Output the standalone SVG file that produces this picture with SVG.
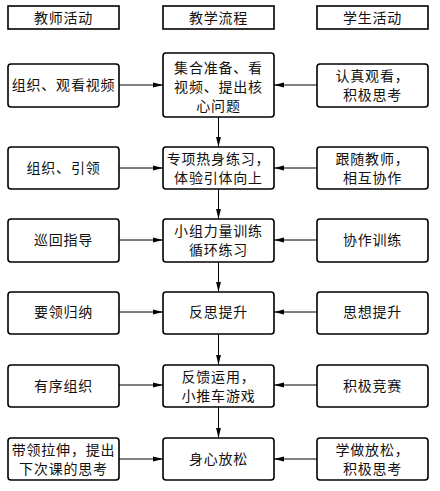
<svg xmlns="http://www.w3.org/2000/svg" width="440" height="491" viewBox="0 0 440 491">
<style>
.hd{fill:#fff;stroke:#000;stroke-width:1.6}
.bx{fill:#fff;stroke:#000;stroke-width:1.6}
text{font-family:"Noto Sans CJK SC","Noto Sans CJK JP",sans-serif;font-size:14px;fill:#111;text-anchor:middle;letter-spacing:0.8px}
.cn{stroke:#000;stroke-width:1;fill:none;marker-end:url(#ah)}
</style>
<defs>
<marker id="ah" markerWidth="10" markerHeight="6" refX="10" refY="3" orient="auto" markerUnits="userSpaceOnUse">
<path d="M0,0.6 L10,3 L0,5.4 Z" fill="#000"/>
</marker>
</defs>
<g id="h1"><rect class="hd" x="8" y="6" width="111" height="23"/><text x="63.5" y="23">教师活动</text></g>
<g id="h2"><rect class="hd" x="163" y="6" width="111" height="23"/><text x="218.5" y="23">教学流程</text></g>
<g id="h3"><rect class="hd" x="317" y="6" width="111" height="23"/><text x="372.5" y="23">学生活动</text></g>

<g id="l1"><rect class="bx" x="8" y="64" width="111" height="43" rx="3"/><text x="63.5" y="90">组织、观看视频</text></g>
<g id="m1"><rect class="bx" x="163" y="53" width="111" height="64" rx="3"/><text x="218.5" y="73">集合准备、看</text><text x="218.5" y="92">视频、提出核</text><text x="218.5" y="111">心问题</text></g>
<g id="r1"><rect class="bx" x="317" y="64" width="111" height="43" rx="3"/><text x="372.5" y="81">认真观看，</text><text x="372.5" y="100">积极思考</text></g>

<g id="l2"><rect class="bx" x="8" y="147" width="111" height="42" rx="3"/><text x="63.5" y="173">组织、引领</text></g>
<g id="m2"><rect class="bx" x="163" y="147" width="111" height="42" rx="3"/><text x="218.5" y="164">专项热身练习，</text><text x="218.5" y="183">体验引体向上</text></g>
<g id="r2"><rect class="bx" x="317" y="147" width="111" height="42" rx="3"/><text x="372.5" y="164">跟随教师，</text><text x="372.5" y="183">相互协作</text></g>

<g id="l3"><rect class="bx" x="8" y="219" width="111" height="43" rx="3"/><text x="63.5" y="245">巡回指导</text></g>
<g id="m3"><rect class="bx" x="163" y="219" width="111" height="43" rx="3"/><text x="218.5" y="236">小组力量训练</text><text x="218.5" y="255">循环练习</text></g>
<g id="r3"><rect class="bx" x="317" y="219" width="111" height="43" rx="3"/><text x="372.5" y="245">协作训练</text></g>

<g id="l4"><rect class="bx" x="8" y="292" width="111" height="42" rx="3"/><text x="63.5" y="317">要领归纳</text></g>
<g id="m4"><rect class="bx" x="163" y="292" width="111" height="42" rx="3"/><text x="218.5" y="317">反思提升</text></g>
<g id="r4"><rect class="bx" x="317" y="292" width="111" height="42" rx="3"/><text x="372.5" y="317">思想提升</text></g>

<g id="l5"><rect class="bx" x="8" y="365" width="111" height="42" rx="3"/><text x="63.5" y="391">有序组织</text></g>
<g id="m5"><rect class="bx" x="163" y="365" width="111" height="42" rx="3"/><text x="218.5" y="382">反馈运用，</text><text x="218.5" y="401">小推车游戏</text></g>
<g id="r5"><rect class="bx" x="317" y="365" width="111" height="42" rx="3"/><text x="372.5" y="391">积极竞赛</text></g>

<g id="l6"><rect class="bx" x="8" y="438" width="111" height="42" rx="3"/><text x="63.5" y="455">带领拉伸，提出</text><text x="63.5" y="474">下次课的思考</text></g>
<g id="m6"><rect class="bx" x="163" y="438" width="111" height="42" rx="3"/><text x="218.5" y="464">身心放松</text></g>
<g id="r6"><rect class="bx" x="317" y="438" width="111" height="42" rx="3"/><text x="372.5" y="455">学做放松，</text><text x="372.5" y="474">积极思考</text></g>

<g id="connectors">
<line class="cn" x1="119" y1="85" x2="163" y2="85"/>
<line class="cn" x1="317" y1="85" x2="274" y2="85"/>
<line class="cn" x1="218.5" y1="117" x2="218.5" y2="147"/>
<line class="cn" x1="119" y1="168" x2="163" y2="168"/>
<line class="cn" x1="317" y1="168" x2="274" y2="168"/>
<line class="cn" x1="218.5" y1="189" x2="218.5" y2="219"/>
<line class="cn" x1="119" y1="240" x2="163" y2="240"/>
<line class="cn" x1="317" y1="240" x2="274" y2="240"/>
<line class="cn" x1="218.5" y1="262" x2="218.5" y2="292"/>
<line class="cn" x1="119" y1="312" x2="163" y2="312"/>
<line class="cn" x1="317" y1="312" x2="274" y2="312"/>
<line class="cn" x1="218.5" y1="334" x2="218.5" y2="365"/>
<line class="cn" x1="119" y1="385" x2="163" y2="385"/>
<line class="cn" x1="317" y1="385" x2="274" y2="385"/>
<line class="cn" x1="218.5" y1="407" x2="218.5" y2="438"/>
<line class="cn" x1="119" y1="459" x2="163" y2="459"/>
<line class="cn" x1="317" y1="459" x2="274" y2="459"/>
</g>
</svg>
